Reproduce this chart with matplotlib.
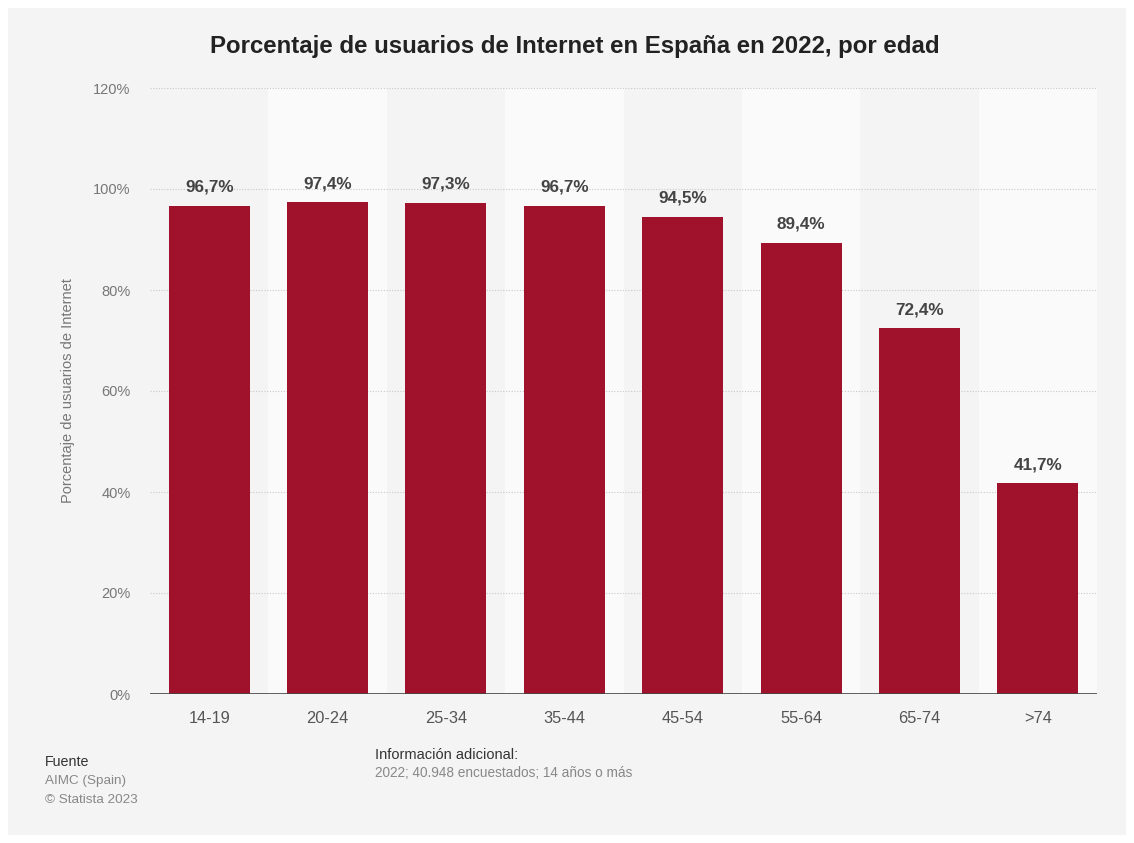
import matplotlib.pyplot as plt
from matplotlib.patches import Rectangle

plt.rcParams["font.family"] = ["Liberation Sans", "DejaVu Sans"]

age_groups = ["14-19", "20-24", "25-34", "35-44", "45-54", "55-64", "65-74", ">74"]
share_users = [96.7, 97.4, 97.3, 96.7, 94.5, 89.4, 72.4, 41.7]
y_ticks = [0, 20, 40, 60, 80, 100, 120]

BG = "#f4f4f4"
BAR = "#a0112b"

fig = plt.figure(figsize=(11.34, 8.43), dpi=100, facecolor="white")
# grey card behind everything
fig.patches.append(Rectangle((8 / 1134, 8 / 843), 1118 / 1134, 827 / 843,
                             transform=fig.transFigure, facecolor=BG,
                             edgecolor="none", zorder=-10))

ax = fig.add_axes([150 / 1134, 149 / 843, 947 / 1134, 606 / 843])
ax.set_facecolor(BG)
ax.set_xlim(-0.5, len(age_groups) - 0.5)
ax.set_ylim(0, 120)

# alternating column bands
for i in range(len(age_groups)):
    if i % 2 == 1:
        ax.axvspan(i - 0.5, i + 0.5, color="#fafafa", zorder=0, lw=0)

for y in y_ticks[1:]:
    ax.axhline(y, color="#c8c8c8", lw=0.8, ls=(0, (1, 1.5)), zorder=1)

x = range(len(age_groups))
ax.bar(x, share_users, width=0.685, color=BAR, zorder=2)
for xi, v in zip(x, share_users):
    ax.text(xi, v + 2.2, f"{v:.1f}%".replace(".", ","), ha="center",
            va="bottom", fontsize=12.3, fontweight="bold", color="#444444")

ax.axhline(0, color="#444444", lw=1.2, zorder=3)
for s in ax.spines.values():
    s.set_visible(False)

ax.set_yticks(y_ticks)
ax.set_yticklabels([f"{t}%" for t in y_ticks])
ax.set_xticks(list(x))
ax.set_xticklabels(age_groups)
ax.tick_params(axis="y", length=0, pad=14, labelsize=10.5, labelcolor="#777777")
ax.tick_params(axis="x", length=0, pad=12, labelsize=11.8, labelcolor="#555555")
ax.set_ylabel("Porcentaje de usuarios de Internet", fontsize=10.5,
              color="#777777")
ax.yaxis.set_label_coords(-0.079, 0.5)

fig.text(575 / 1134, 1 - 46 / 843,
         "Porcentaje de usuarios de Internet en España en 2022, por edad",
         ha="center", va="center", fontsize=17.3, fontweight="bold",
         color="#222222")

fig.text(45 / 1134, 1 - 762 / 843, "Fuente", fontsize=10.3, color="#333333",
         va="center")
fig.text(45 / 1134, 1 - 781 / 843, "AIMC (Spain)", fontsize=9.7,
         color="#888888", va="center")
fig.text(45 / 1134, 1 - 800 / 843, "© Statista 2023", fontsize=9.7,
         color="#888888", va="center")
fig.text(375 / 1134, 1 - 755 / 843, "Información adicional:", fontsize=10.5,
         color="#333333", va="center")
fig.text(375 / 1134, 1 - 773 / 843, "2022; 40.948 encuestados; 14 años o más",
         fontsize=9.8, color="#888888", va="center")

fig.savefig("out.png", dpi=100, facecolor="white")
